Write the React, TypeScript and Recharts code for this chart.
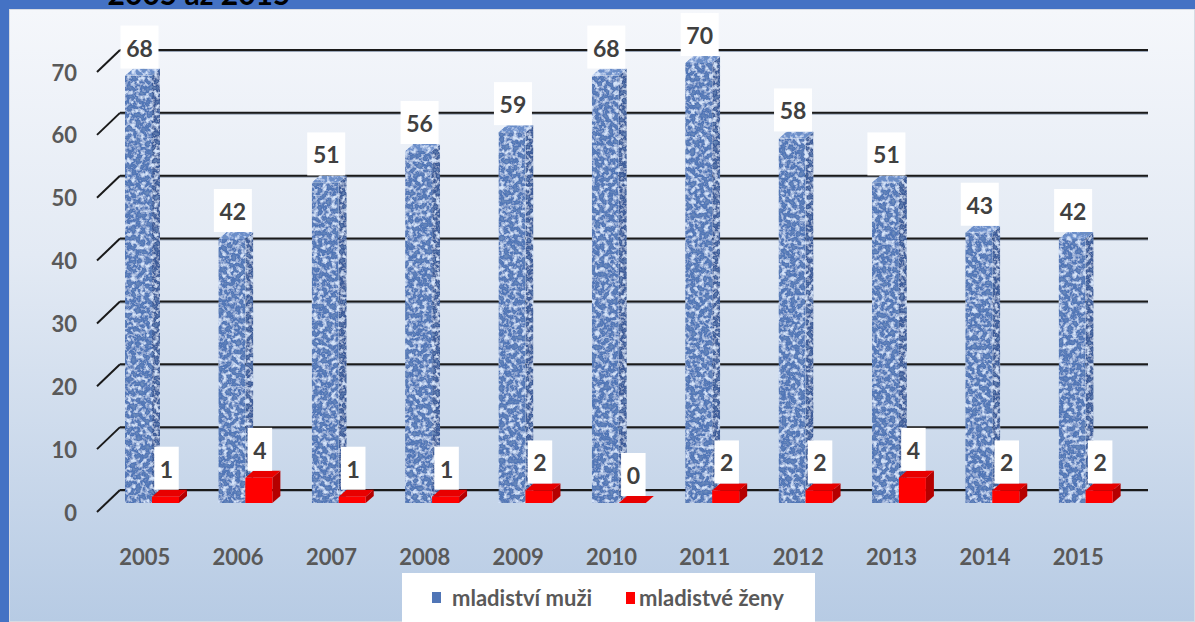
import React from "react";
import {
  Bar,
  BarChart,
  CartesianGrid,
  LabelList,
  Legend,
  XAxis,
  YAxis,
} from "recharts";

const years = ["2005", "2006", "2007", "2008", "2009", "2010", "2011", "2012", "2013", "2014", "2015"];
const muzi = [68, 42, 51, 56, 59, 68, 70, 58, 51, 43, 42];
const zeny = [1, 4, 1, 1, 2, 0, 2, 2, 4, 2, 2];
const yTicks = [0, 10, 20, 30, 40, 50, 60, 70];

const data = years.map((year, i) => ({ year, muzi: muzi[i], zeny: zeny[i] }));

const FONT = "Lato, 'Open Sans', sans-serif";
const DEPTH_X = 8;
const DEPTH_Y = 7;

function make3DBar(front: string, top: string, side: string, filter?: string) {
  return function Bar3D(props: any) {
    const { x, y, width, height } = props;
    if (x == null || y == null) return null;
    const h = Math.max(0, height);
    return (
      <g filter={filter}>
        <polygon
          points={`${x + width},${y} ${x + width + DEPTH_X},${y - DEPTH_Y} ${x + width + DEPTH_X},${y + h - DEPTH_Y} ${x + width},${y + h}`}
          fill={side}
        />
        <polygon
          points={`${x},${y} ${x + DEPTH_X},${y - DEPTH_Y} ${x + width + DEPTH_X},${y - DEPTH_Y} ${x + width},${y}`}
          fill={top}
        />
        {h > 0 && <rect x={x} y={y} width={width} height={h} fill={front} />}
      </g>
    );
  };
}

const BlueBar = make3DBar("#5075b6", "#6a8ecb", "#3a5a98", "url(#blueTex)");
const RedBar = make3DBar("#ff0000", "#e80000", "#b50000");

function ValueLabel(props: any) {
  const { x, y, width, value } = props;
  const text = String(value);
  const w = text.length * 13.5 + 11;
  const cx = x + width / 2 + 1;
  const bottom = y - 7;
  return (
    <g>
      <rect x={cx - w / 2} y={bottom - 43} width={w} height={43} fill="#ffffff" />
      <text
        x={cx}
        y={bottom - 21}
        textAnchor="middle"
        dominantBaseline="central"
        fontFamily={FONT}
        fontWeight={700}
        fontSize={23}
        fill="#404040"
      >
        {text}
      </text>
    </g>
  );
}

function YTick(props: any) {
  const { x, y, payload } = props;
  return (
    <text
      x={x - 28}
      y={y + 9}
      textAnchor="end"
      dominantBaseline="central"
      fontFamily={FONT}
      fontWeight={700}
      fontSize={22}
      fill="#595959"
    >
      {payload.value}
    </text>
  );
}

function XTick(props: any) {
  const { x, y, payload } = props;
  return (
    <text
      x={x - 7}
      y={y + 45}
      textAnchor="middle"
      dominantBaseline="central"
      fontFamily={FONT}
      fontWeight={700}
      fontSize={22}
      fill="#595959"
    >
      {payload.value}
    </text>
  );
}

function GridLine(props: any) {
  const { x1, x2, y1, key } = props;
  return (
    <g key={key}>
      <line x1={x1 - 8} y1={y1 + 9} x2={x1 + 15} y2={y1 - 13} stroke="#1a1a1a" strokeWidth={2} />
      <line x1={x1 + 15} y1={y1 - 12} x2={x2 + 16} y2={y1 - 12} stroke="#9aa6b8" strokeWidth={2} />
      <line x1={x1 + 15} y1={y1 - 13} x2={x2 + 16} y2={y1 - 13} stroke="#1a1a1a" strokeWidth={2} />
    </g>
  );
}

function LegendContent() {
  return (
    <div
      style={{
        width: 413,
        height: 49,
        background: "#ffffff",
        display: "flex",
        alignItems: "center",
        fontFamily: FONT,
        fontWeight: 700,
        fontSize: 22,
        color: "#595959",
      }}
    >
      <span style={{ width: 9, height: 11, marginLeft: 30, marginRight: 11, background: "#5075b6", display: "inline-block" }} />
      <span>mladiství muži</span>
      <span style={{ width: 9, height: 12, marginLeft: 34, marginRight: 4, background: "#ff0000", display: "inline-block" }} />
      <span>mladistvé ženy</span>
    </div>
  );
}

export default function App() {
  return (
    <div style={{ position: "fixed", left: 0, top: 0, width: 1195, height: 622, background: "#4472c4", overflow: "hidden" }}>
      <svg width={0} height={0} style={{ position: "absolute" }}>
        <defs>
          <filter id="blueTex" x="0" y="0" width="100%" height="100%">
            <feTurbulence type="fractalNoise" baseFrequency="0.22" numOctaves={3} seed={7} result="noise" />
            <feColorMatrix
              in="noise"
              type="matrix"
              values="0 0 0 0 0.66  0 0 0 0 0.77  0 0 0 0 0.95  3.4 0 0 0 -1.55"
              result="light"
            />
            <feColorMatrix
              in="noise"
              type="matrix"
              values="0 0 0 0 0.16  0 0 0 0 0.27  0 0 0 0 0.5  -3.4 0 0 0 1.45"
              result="dark"
            />
            <feMerge result="merged">
              <feMergeNode in="SourceGraphic" />
              <feMergeNode in="light" />
              <feMergeNode in="dark" />
            </feMerge>
            <feComposite in="merged" in2="SourceGraphic" operator="in" />
          </filter>
        </defs>
      </svg>
      <div
        style={{
          position: "absolute",
          left: 9,
          top: 9,
          right: 0,
          bottom: 0,
          border: "1px solid #d6dbe3",
          background: "linear-gradient(to bottom, #f5f7fb 0%, #e3eaf4 40%, #b7cbe4 100%)",
        }}
      />
      <svg width={1195} height={20} style={{ position: "absolute", left: 0, top: 0 }}>
        <text x={199} y={5} textAnchor="middle" fontFamily={FONT} fontWeight={700} fontSize={30} fill="#000000">
          2005 až 2015
        </text>
      </svg>
      <div style={{ position: "absolute", left: 0, top: 0 }}>
        <BarChart
          width={1195}
          height={622}
          data={data}
          margin={{ top: 63, right: 63, bottom: 89, left: 45 }}
          barSize={27}
          barGap={0}
        >
          <CartesianGrid vertical={false} horizontal={(p: any) => <GridLine {...p} />} />
          <XAxis dataKey="year" height={30} axisLine={false} tickLine={false} tick={<XTick />} interval={0} />
          <YAxis
            width={60}
            domain={[0, 70]}
            ticks={yTicks}
            axisLine={false}
            tickLine={false}
            tickSize={0}
            tickMargin={0}
            tick={<YTick />}
          />
          <Legend
            layout="horizontal"
            align="center"
            verticalAlign="middle"
            wrapperStyle={{ left: 402, top: 573, width: 413, height: 49 }}
            content={<LegendContent />}
          />
          <Bar dataKey="muzi" name="mladiství muži" shape={BlueBar} isAnimationActive={false}>
            <LabelList dataKey="muzi" content={<ValueLabel />} />
          </Bar>
          <Bar dataKey="zeny" name="mladistvé ženy" shape={RedBar} isAnimationActive={false}>
            <LabelList dataKey="zeny" content={<ValueLabel />} />
          </Bar>
        </BarChart>
      </div>
    </div>
  );
}
